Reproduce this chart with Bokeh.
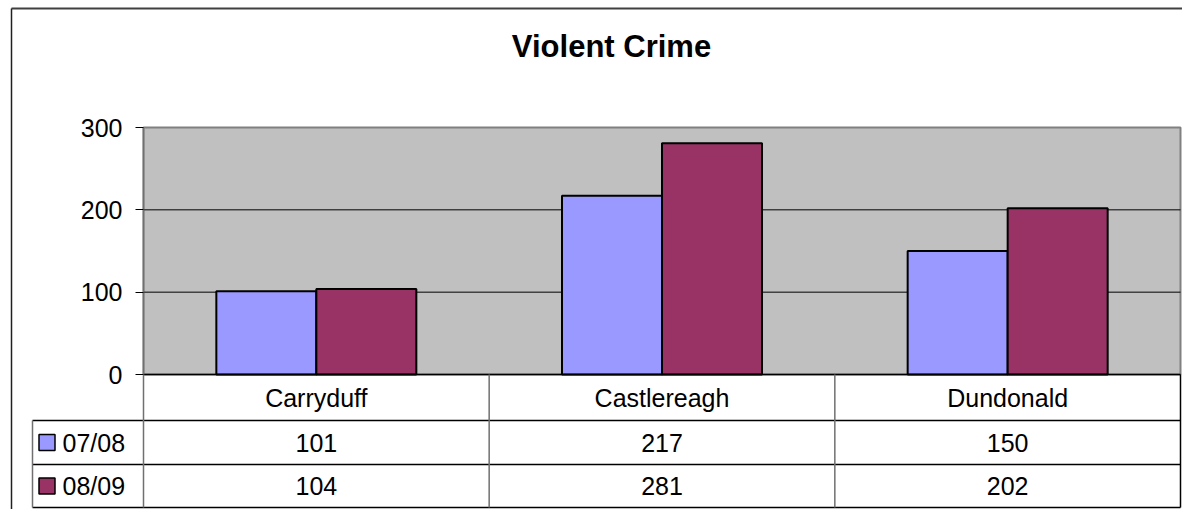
from bokeh.plotting import figure
from bokeh.models import Range1d, LinearAxis, FixedTicker
from bokeh.embed import file_html
from bokeh.resources import INLINE
from bokeh.core.properties import value

# ---- data ----
title = "Violent Crime"
categories = ["Carryduff", "Castlereagh", "Dundonald"]
series_names = ["07/08", "08/09"]
s1 = [101, 217, 150]
s2 = [104, 281, 202]
y_ticks = [0, 100, 200, 300]
colors = ["#9999FF", "#993366"]

FONT = value("Liberation Sans")

# ---- layout (figure pixels -> data units) ----
FW, FH = 1182, 509
PX0 = 143.0
PXU = (1180.0 - PX0) / 3     # px per category
PY0, PYU = 374.0, 0.8233     # y=0 at px 374, px per unit

def dx(px):
    return (px - PX0) / PXU

def dy(py):
    return (PY0 - py) / PYU

ncat = len(categories)
bar_w = 100 / PXU
ymax = 300

p = figure(width=FW, height=FH, output_backend="svg", toolbar_location=None,
           x_range=Range1d(dx(0), dx(FW)), y_range=Range1d(dy(FH), dy(0)),
           x_axis_location=None, y_axis_location=None,
           min_border_left=0, min_border_right=0, min_border_top=0, min_border_bottom=0)
p.outline_line_color = None
p.xgrid.visible = False
p.ygrid.visible = False
p.background_fill_color = "white"
p.border_fill_color = "white"

# plot area
p.quad(left=[0], right=[ncat], bottom=[0], top=[ymax], fill_color="#C0C0C0",
       line_color="#808080", line_width=2)
# gridlines
grid_vals = [t for t in y_ticks if 0 < t < ymax]
p.segment(x0=[0] * len(grid_vals), x1=[ncat] * len(grid_vals), y0=grid_vals, y1=grid_vals,
          line_color="black", line_width=1)

# bars
xc = [i + 0.5 for i in range(ncat)]
p.vbar(x=[x - bar_w / 2 for x in xc], width=bar_w, top=s1, bottom=0,
       fill_color=colors[0], line_color="black", line_width=2)
p.vbar(x=[x + bar_w / 2 for x in xc], width=bar_w, top=s2, bottom=0,
       fill_color=colors[1], line_color="black", line_width=2)

# y axis
yax = LinearAxis(ticker=FixedTicker(ticks=y_ticks), fixed_location=0)
yax.axis_line_color = None
yax.major_tick_out = 8
yax.major_tick_in = 0
yax.minor_tick_out = 0
yax.minor_tick_in = 0
yax.major_tick_line_color = "black"
yax.major_label_text_font = "Liberation Sans"
yax.major_label_text_font_size = "25px"
yax.major_label_text_color = "black"
yax.major_label_standoff = 13
p.add_layout(yax, "left")

# ---- data table ----
r_cat = dy(420)
r1 = dy(464)
r2 = dy(507)
leg_left = dx(32)

# horizontal lines
p.segment(x0=[0, leg_left, leg_left, leg_left], x1=[ncat] * 4,
          y0=[0, r_cat, r1, r2], y1=[0, r_cat, r1, r2], line_color="black", line_width=1.5)
# vertical lines
p.segment(x0=[leg_left, 0, 1, 2], x1=[leg_left, 0, 1, 2],
          y0=[r_cat, ymax, 0, 0], y1=[r2, r2, r2, r2], line_color="#707070", line_width=1.5)
p.segment(x0=[ncat], x1=[ncat], y0=[0], y1=[r2], line_color="black", line_width=1.5)

# category labels
p.text(x=xc, y=[r_cat / 2] * ncat, text=categories, text_font=FONT, text_font_size="25px",
       text_align="center", text_baseline="middle", text_color="black")
# values
row_c1 = (r_cat + r1) / 2
row_c2 = (r1 + r2) / 2
p.text(x=xc, y=[row_c1] * ncat, text=[str(v) for v in s1], text_font=FONT, text_font_size="25px",
       text_align="center", text_baseline="middle", text_color="black")
p.text(x=xc, y=[row_c2] * ncat, text=[str(v) for v in s2], text_font=FONT, text_font_size="25px",
       text_align="center", text_baseline="middle", text_color="black")
# legend keys and names
p.rect(x=[dx(46.5)] * 2, y=[row_c1, row_c2], width=16, height=16, width_units="screen",
       height_units="screen", fill_color=colors, line_color="black", line_width=1.5)
p.text(x=[dx(62)] * 2, y=[row_c1, row_c2], text=series_names, text_font=FONT,
       text_font_size="25px", text_align="left", text_baseline="middle", text_color="black")

# title
p.text(x=[dx(611)], y=[dy(46)], text=[title], text_font=FONT, text_font_size="31px",
       text_font_style="bold", text_align="center", text_baseline="middle", text_color="black")

# outer chart border (top and left visible)
p.segment(x0=[dx(11), dx(11)], x1=[dx(FW), dx(11)], y0=[dy(8), dy(8)],
          y1=[dy(8), dy(FH)], line_color=["#404040", "#202020"], line_width=[2, 1.5])

open("out.html", "w").write(file_html(p, INLINE))
